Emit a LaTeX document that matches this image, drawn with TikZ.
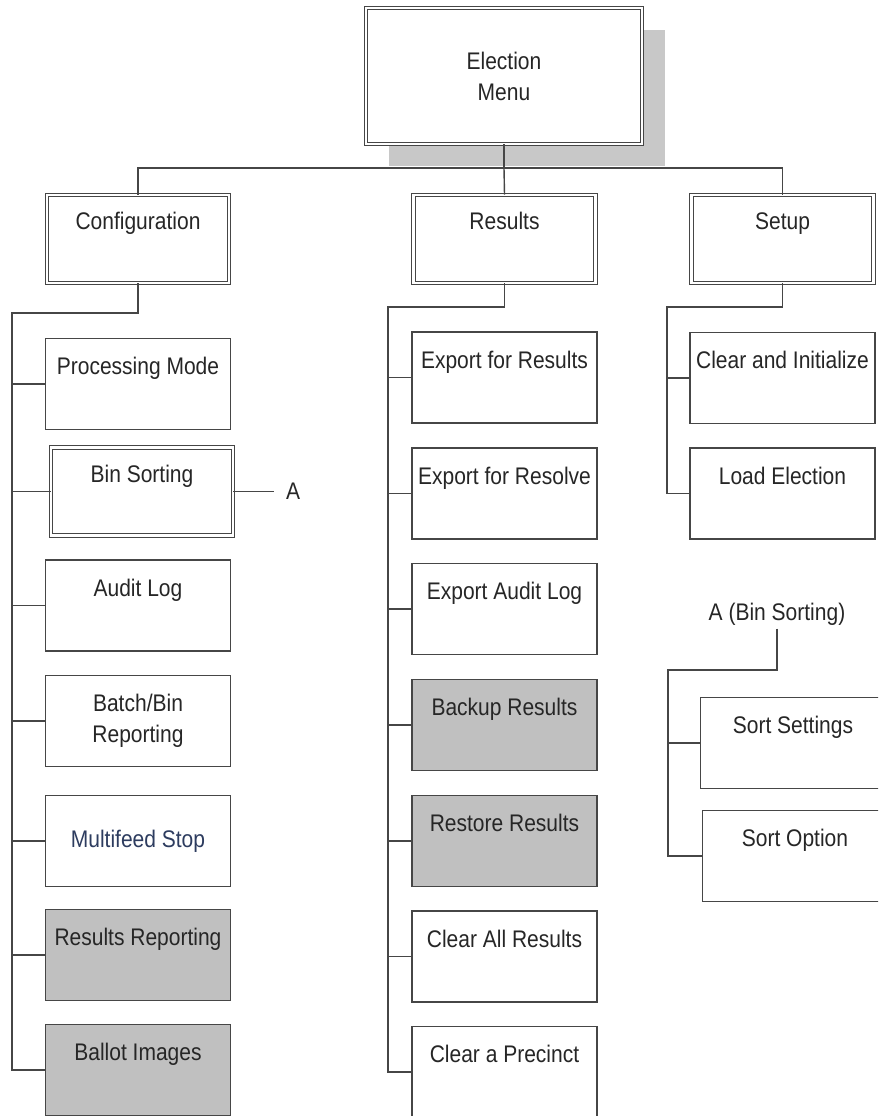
\documentclass[tikz,border=0pt]{standalone}
\usepackage{fontspec}
\setmainfont{Liberation Sans}[FakeStretch=0.875]
\usepackage{tikz}
\usetikzlibrary{shadows, positioning}
\definecolor{menuLinea}{RGB}{70,70,70}
\definecolor{menuGris}{RGB}{192,192,192}
\definecolor{menuSombra}{RGB}{200,200,200}
\definecolor{menuAzul}{RGB}{45,60,95}

\begin{document}
\begin{tikzpicture}[x=1pt, y=-1pt,
        item/.style={rectangle, draw=menuLinea, fill=white, line width=1.3pt, minimum width=185pt, minimum height=91pt, inner sep=0pt,
            text height=20pt, text depth=39pt, align=center, font=\fontsize{24}{31}\selectfont, text=black!85},
        head/.style={item, double, double distance=2.6pt, line width=0.9pt, minimum width=182pt, minimum height=88pt},
        shaded/.style={item, fill=menuGris},
        free/.style={text height={}, text depth={}},
        link/.style={draw=menuLinea, line width=1.4pt}]

        \useasboundingbox (0,0) rectangle (878,1116);
        \clip (0,0) rectangle (878,1116);

        % top level
        \node[head, free, minimum width=276pt, minimum height=136pt,
            drop shadow={shadow xshift=23pt, shadow yshift=-22pt, fill=menuSombra, opacity=1, draw=none}] (menu) at (504,76) {Election\\Menu};
        \node[head] (cfg) at (138,239) {Configuration};
        \node[head] (res) at (504.5,239) {Results};
        \node[head] (setup) at (782.5,239) {Setup};

        % configuration
        \node[item] (procmode) at (138,384) {Processing Mode};
        \node[head] (binsort) at (142,491.5) {Bin Sorting};
        \node[item] (auditlog) at (138,605.5) {Audit Log};
        \node[item, free] (batchbin) at (138,721) {Batch/Bin\\Reporting};
        \node[item, free, text=menuAzul] (multifeed) at (138,841) {Multifeed Stop};
        \node[shaded] (resrep) at (138,955) {Results Reporting};
        \node[shaded] (ballot) at (138,1070) {Ballot Images};
        \node[font=\fontsize{24}{31}\selectfont, text=black!85, inner xsep=12pt, anchor=west] (binA) at (274,491.5) {A};

        % results
        \node[item] (expres) at (504.5,377.5) {Export for Results};
        \node[item] (expresolve) at (504.5,493.5) {Export for Resolve};
        \node[item] (expaudit) at (504.5,609) {Export Audit Log};
        \node[shaded] (backup) at (504.5,725) {Backup Results};
        \node[shaded] (restore) at (504.5,841) {Restore Results};
        \node[item] (clearall) at (504.5,956.5) {Clear All Results};
        \node[item] (clearprec) at (504.5,1072) {Clear a Precinct};

        % setup
        \node[item] (clearinit) at (782.5,378) {Clear and Initialize};
        \node[item] (loadel) at (782.5,493.5) {Load Election};

        % A (Bin Sorting)
        \node[font=\fontsize{24}{31}\selectfont, text=black!85] (subA) at (777,614) {A (Bin Sorting)};
        \node[item] (sortset) at (793,743) {Sort Settings};
        \node[item] (sortopt) at (795,856) {Sort Option};

        \coordinate (bus) at (504,168);
        \coordinate (cfgturn) at (12,313);
        \coordinate (resturn) at (388,307);
        \coordinate (setturn) at (667,307);
        \coordinate (aturn) at (668,670);

        \draw[link] (menu.south) -- (bus);
        \draw[link] (cfg.north) |- (bus) -| (setup.north);
        \draw[link] (bus) -- (res.north);

        \draw[link] (cfg.south) |- (cfgturn) -- (cfgturn |- ballot.west) -- (ballot.west);
        \foreach \n in {procmode, binsort, auditlog, batchbin, multifeed, resrep}
            \draw[link] (cfgturn |- \n.west) -- (\n.west);
        \draw[link] (binsort.east) -- (binA.west);

        \draw[link] (res.south) |- (resturn) -- (resturn |- clearprec.west) -- (clearprec.west);
        \foreach \n in {expres, expresolve, expaudit, backup, restore, clearall}
            \draw[link] (resturn |- \n.west) -- (\n.west);

        \draw[link] (setup.south) |- (setturn) -- (setturn |- loadel.west) -- (loadel.west);
        \draw[link] (setturn |- clearinit.west) -- (clearinit.west);

        \draw[link] (subA.south) |- (aturn) -- (aturn |- sortopt.west) -- (sortopt.west);
        \draw[link] (aturn |- sortset.west) -- (sortset.west);
    \end{tikzpicture}
\end{document}
